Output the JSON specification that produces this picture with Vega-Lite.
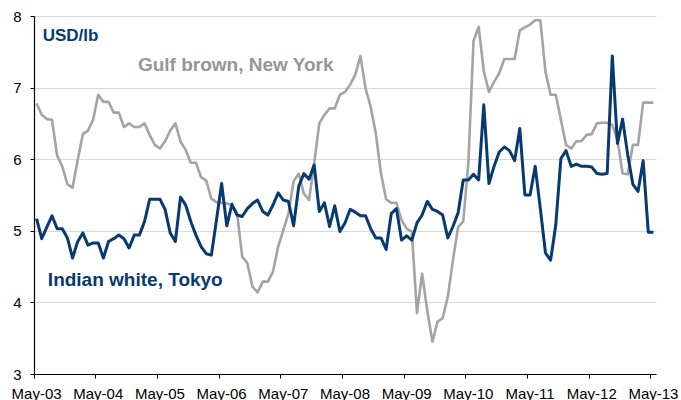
{
  "$schema": "https://vega.github.io/schema/vega-lite/v6.json",
  "width": 622,
  "height": 358,
  "autosize": {"type": "none"},
  "padding": {"left": 34, "top": 16, "right": 25, "bottom": 26},
  "background": "white",
  "config": {"view": {"stroke": null}, "font": "Liberation Sans"},
  "data": {"values": [
    {"m":"May-03","g":6.78,"b":5.17},{"m":"Jun-03","g":6.62,"b":4.89},{"m":"Jul-03","g":6.56,"b":5.05},{"m":"Aug-03","g":6.55,"b":5.21},
    {"m":"Sep-03","g":6.05,"b":5.03},{"m":"Oct-03","g":5.9,"b":5.03},{"m":"Nov-03","g":5.65,"b":4.9},{"m":"Dec-03","g":5.6,"b":4.62},
    {"m":"Jan-04","g":5.99,"b":4.85},{"m":"Feb-04","g":6.35,"b":4.97},{"m":"Mar-04","g":6.4,"b":4.8},{"m":"Apr-04","g":6.55,"b":4.83},
    {"m":"May-04","g":6.9,"b":4.83},{"m":"Jun-04","g":6.8,"b":4.62},{"m":"Jul-04","g":6.8,"b":4.85},{"m":"Aug-04","g":6.65,"b":4.89},
    {"m":"Sep-04","g":6.65,"b":4.94},{"m":"Oct-04","g":6.45,"b":4.89},{"m":"Nov-04","g":6.5,"b":4.76},{"m":"Dec-04","g":6.45,"b":4.94},
    {"m":"Jan-05","g":6.45,"b":4.94},{"m":"Feb-05","g":6.5,"b":5.13},{"m":"Mar-05","g":6.34,"b":5.44},{"m":"Apr-05","g":6.2,"b":5.44},
    {"m":"May-05","g":6.15,"b":5.44},{"m":"Jun-05","g":6.25,"b":5.3},{"m":"Jul-05","g":6.4,"b":4.97},{"m":"Aug-05","g":6.5,"b":4.85},
    {"m":"Sep-05","g":6.25,"b":5.47},{"m":"Oct-05","g":6.13,"b":5.36},{"m":"Nov-05","g":5.95,"b":5.13},{"m":"Dec-05","g":5.95,"b":4.94},
    {"m":"Jan-06","g":5.75,"b":4.78},{"m":"Feb-06","g":5.7,"b":4.68},{"m":"Mar-06","g":5.45,"b":4.66},{"m":"Apr-06","g":5.4,"b":5.15},
    {"m":"May-06","g":5.39,"b":5.66},{"m":"Jun-06","g":5.38,"b":5.07},{"m":"Jul-06","g":5.36,"b":5.37},{"m":"Aug-06","g":5.25,"b":5.22},
    {"m":"Sep-06","g":4.64,"b":5.2},{"m":"Oct-06","g":4.55,"b":5.31},{"m":"Nov-06","g":4.22,"b":5.38},{"m":"Dec-06","g":4.14,"b":5.43},
    {"m":"Jan-07","g":4.29,"b":5.27},{"m":"Feb-07","g":4.29,"b":5.22},{"m":"Mar-07","g":4.43,"b":5.36},{"m":"Apr-07","g":4.78,"b":5.53},
    {"m":"May-07","g":5.01,"b":5.43},{"m":"Jun-07","g":5.24,"b":5.41},{"m":"Jul-07","g":5.69,"b":5.07},{"m":"Aug-07","g":5.8,"b":5.62},
    {"m":"Sep-07","g":5.52,"b":5.8},{"m":"Oct-07","g":5.43,"b":5.72},{"m":"Nov-07","g":5.94,"b":5.92},{"m":"Dec-07","g":6.5,"b":5.27},
    {"m":"Jan-08","g":6.62,"b":5.39},{"m":"Feb-08","g":6.71,"b":5.06},{"m":"Mar-08","g":6.71,"b":5.35},{"m":"Apr-08","g":6.9,"b":4.99},
    {"m":"May-08","g":6.94,"b":5.11},{"m":"Jun-08","g":7.04,"b":5.3},{"m":"Jul-08","g":7.18,"b":5.26},{"m":"Aug-08","g":7.44,"b":5.21},
    {"m":"Sep-08","g":6.99,"b":5.21},{"m":"Oct-08","g":6.73,"b":5.03},{"m":"Nov-08","g":6.36,"b":4.9},{"m":"Dec-08","g":5.8,"b":4.9},
    {"m":"Jan-09","g":5.44,"b":4.74},{"m":"Feb-09","g":5.39,"b":5.24},{"m":"Mar-09","g":5.39,"b":5.31},{"m":"Apr-09","g":5.15,"b":4.87},
    {"m":"May-09","g":5.03,"b":4.93},{"m":"Jun-09","g":4.99,"b":4.87},{"m":"Jul-09","g":3.85,"b":5.11},{"m":"Aug-09","g":4.4,"b":5.22},
    {"m":"Sep-09","g":3.89,"b":5.41},{"m":"Oct-09","g":3.45,"b":5.3},{"m":"Nov-09","g":3.73,"b":5.27},{"m":"Dec-09","g":3.78,"b":5.22},
    {"m":"Jan-10","g":4.08,"b":4.9},{"m":"Feb-10","g":4.59,"b":5.06},{"m":"Mar-10","g":5.05,"b":5.25},{"m":"Apr-10","g":5.13,"b":5.71},
    {"m":"May-10","g":5.95,"b":5.71},{"m":"Jun-10","g":7.65,"b":5.79},{"m":"Jul-10","g":7.85,"b":5.71},{"m":"Aug-10","g":7.23,"b":6.76},
    {"m":"Sep-10","g":6.94,"b":5.66},{"m":"Oct-10","g":7.08,"b":5.9},{"m":"Nov-10","g":7.2,"b":6.1},{"m":"Dec-10","g":7.4,"b":6.17},
    {"m":"Jan-11","g":7.4,"b":6.12},{"m":"Feb-11","g":7.4,"b":5.98},{"m":"Mar-11","g":7.8,"b":6.43},{"m":"Apr-11","g":7.84,"b":5.5},
    {"m":"May-11","g":7.88,"b":5.5},{"m":"Jun-11","g":7.94,"b":5.9},{"m":"Jul-11","g":7.94,"b":5.31},{"m":"Aug-11","g":7.22,"b":4.69},
    {"m":"Sep-11","g":6.9,"b":4.59},{"m":"Oct-11","g":6.9,"b":5.08},{"m":"Nov-11","g":6.55,"b":6.01},{"m":"Dec-11","g":6.2,"b":6.12},
    {"m":"Jan-12","g":6.15,"b":5.9},{"m":"Feb-12","g":6.25,"b":5.93},{"m":"Mar-12","g":6.25,"b":5.9},{"m":"Apr-12","g":6.34,"b":5.9},
    {"m":"May-12","g":6.35,"b":5.89},{"m":"Jun-12","g":6.5,"b":5.8},{"m":"Jul-12","g":6.51,"b":5.79},{"m":"Aug-12","g":6.51,"b":5.8},
    {"m":"Sep-12","g":6.48,"b":7.44},{"m":"Oct-12","g":6.27,"b":6.22},{"m":"Nov-12","g":5.8,"b":6.56},{"m":"Dec-12","g":5.79,"b":6.06},
    {"m":"Jan-13","g":6.2,"b":5.65},{"m":"Feb-13","g":6.2,"b":5.55},{"m":"Mar-13","g":6.79,"b":5.98},{"m":"Apr-13","g":6.79,"b":4.98},
    {"m":"May-13","g":6.79,"b":4.98}
  ]},
  "encoding": {
    "x": {
      "field": "m", "type": "ordinal", "sort": null,
      "scale": {"type": "band", "paddingInner": 0, "paddingOuter": 0},
      "axis": {
        "title": null,
        "values": ["May-03","May-04","May-05","May-06","May-07","May-08","May-09","May-10","May-11","May-12","May-13"],
        "bandPosition": 0,
        "labelAngle": 0,
        "labelFontSize": 15,
        "labelColor": "#000000",
        "labelPadding": 8,
        "labelOverlap": false,
        "labelBound": false,
        "labelFlush": false,
        "tickSize": 4,
        "tickColor": "#000000",
        "domainColor": "#000000",
        "domainWidth": 1.2,
        "grid": false
      }
    }
  },
  "layer": [
    {
      "mark": {"type": "line", "color": "#a4a4a4", "strokeWidth": 2.6, "strokeJoin": "round"},
      "encoding": {
        "y": {
          "field": "g", "type": "quantitative",
          "scale": {"domain": [3, 8], "nice": false, "zero": false},
          "axis": {
            "title": null,
            "values": [3, 4, 5, 6, 7, 8],
            "format": "d",
            "labelFontSize": 15,
            "labelColor": "#000000",
            "labelPadding": 9,
            "tickSize": 4,
            "tickColor": "#000000",
            "domainColor": "#000000",
            "domainWidth": 1.2,
            "grid": true,
            "gridColor": "#d9d9d9",
            "gridWidth": 1.2
          }
        }
      }
    },
    {
      "mark": {"type": "line", "color": "#063a70", "strokeWidth": 3, "strokeJoin": "round"},
      "encoding": {"y": {"field": "b", "type": "quantitative"}}
    },
    {
      "data": {"values": [{"label": "USD/lb"}]},
      "mark": {"type": "text", "align": "left", "baseline": "alphabetic", "fontSize": 17, "fontWeight": "bold", "color": "#063a70", "dx": 1},
      "encoding": {"x": {"datum": "Jun-03"}, "y": {"datum": 7.644}, "text": {"field": "label"}}
    },
    {
      "data": {"values": [{"label": "Gulf brown, New York"}]},
      "mark": {"type": "text", "align": "left", "baseline": "alphabetic", "fontSize": 19, "fontWeight": "bold", "color": "#969696", "dx": -1.5},
      "encoding": {"x": {"datum": "Jan-05"}, "y": {"datum": 7.233}, "text": {"field": "label"}}
    },
    {
      "data": {"values": [{"label": "Indian white, Tokyo"}]},
      "mark": {"type": "text", "align": "left", "baseline": "alphabetic", "fontSize": 19, "fontWeight": "bold", "color": "#063a70", "dx": 1},
      "encoding": {"x": {"datum": "Jul-03"}, "y": {"datum": 4.236}, "text": {"field": "label"}}
    }
  ]
}
